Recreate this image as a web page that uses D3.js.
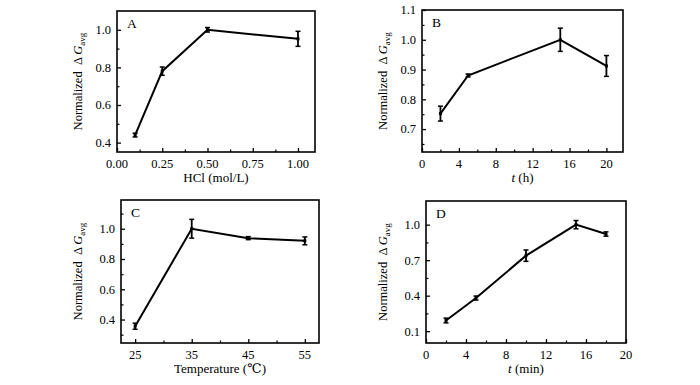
<!DOCTYPE html>
<html>
<head>
<meta charset="utf-8">
<script src="https://cdn.jsdelivr.net/npm/d3@7"></script>
<style>
  body { margin: 0; background: #fff; }
  svg text { font-family: "Liberation Serif", "DejaVu Serif", serif; fill: #000; white-space: pre; }
</style>
</head>
<body>
<script>
// data
var hclX = [0.1, 0.25, 0.5, 1.0],
    hclY = [0.44, 0.78, 1.0, 0.952],
    hclErr = [0.01, 0.022, 0.012, 0.04];
var hourX = [2, 5, 15, 20],
    hourY = [0.752, 0.88, 1.0, 0.912],
    hourErr = [0.025, 0.005, 0.039, 0.035];
var tempX = [25, 35, 45, 55],
    tempY = [0.356, 1.0, 0.938, 0.92],
    tempErr = [0.02, 0.062, 0.01, 0.026];
var minX = [2, 5, 10, 15, 18],
    minY = [0.19, 0.38, 0.738, 1.0, 0.921],
    minErr = [0.02, 0.017, 0.048, 0.035, 0.018];

// tick values
var hclTicks = [0, 0.25, 0.5, 0.75, 1.0], hclMinor = [0.125, 0.375, 0.625, 0.875];
var hclYTicks = [0.4, 0.6, 0.8, 1.0], hclYMinor = [0.5, 0.7, 0.9];
var hourTicks = [0, 4, 8, 12, 16, 20], hourMinor = [2, 6, 10, 14, 18];
var hourYTicks = [0.7, 0.8, 0.9, 1.0, 1.1], hourYMinor = [0.65, 0.75, 0.85, 0.95, 1.05];
var tempTicks = [25, 35, 45, 55], tempMinor = [30, 40, 50];
var tempYTicks = [0.4, 0.6, 0.8, 1.0], tempYMinor = [0.3, 0.5, 0.7, 0.9, 1.1];
var minTicks = [0, 4, 8, 12, 16, 20], minMinor = [2, 6, 10, 14, 18];
var minYTicks = [0.1, 0.4, 0.7, 1.0], minYMinor = [0.25, 0.55, 0.85];

var svg = d3.select("body").append("svg")
    .attr("width", 700)
    .attr("height", 385);

var panels = [
  {letter: "A", xs: hclX, ys: hclY, es: hclErr, left: 117, right: 315, top: 11, bottom: 152,
   xdom: [0, 1.094], ydom: [0.35, 1.1], xt: hclTicks, xm: hclMinor, yt: hclYTicks, ym: hclYMinor,
   xf: d3.format(".2f"), yf: d3.format(".1f"), xtitle: "HCl (mol/L)", ytx: 39},
  {letter: "B", xs: hourX, ys: hourY, es: hourErr, left: 422, right: 623, top: 10, bottom: 152,
   xdom: [0, 21.8], ydom: [0.623, 1.1], xt: hourTicks, xm: hourMinor, yt: hourYTicks, ym: hourYMinor,
   xf: d3.format("d"), yf: d3.format(".1f"), xtitle: "t", xunit: " (h)", ytx: 39},
  {letter: "C", xs: tempX, ys: tempY, es: tempErr, left: 121, right: 319, top: 200, bottom: 343,
   xdom: [22.5, 57.5], ydom: [0.245, 1.19], xt: tempTicks, xm: tempMinor, yt: tempYTicks, ym: tempYMinor,
   xf: d3.format("d"), yf: d3.format(".1f"), xtitle: "Temperature (\u2103)", ytx: 43},
  {letter: "D", xs: minX, ys: minY, es: minErr, left: 426, right: 626, top: 201, bottom: 343,
   xdom: [0, 20], ydom: [0, 1.2], xt: minTicks, xm: minMinor, yt: minYTicks, ym: minYMinor,
   xf: d3.format("d"), yf: d3.format(".1f"), xtitle: "t", xunit: " (min)", ytx: 43}
];

panels.forEach(function(p){
    var x = d3.scaleLinear().domain(p.xdom).range([p.left, p.right]);
    var y = d3.scaleLinear().domain(p.ydom).range([p.bottom, p.top]);
    var g = svg.append("g");

    // frame
    g.append("rect")
        .attr("x", p.left).attr("y", p.top)
        .attr("width", p.right - p.left).attr("height", p.bottom - p.top)
        .attr("fill", "none").attr("stroke", "#000").attr("stroke-width", 1.6);

    // inward ticks
    g.append("g")
        .attr("transform", "translate(0," + p.bottom + ")")
        .call(d3.axisTop(x).tickValues(p.xt).tickSize(4).tickFormat(""))
        .call(function(a){ a.select(".domain").remove(); a.selectAll("line").attr("stroke-width", 1.3); });
    g.append("g")
        .attr("transform", "translate(0," + p.bottom + ")")
        .call(d3.axisTop(x).tickValues(p.xm).tickSize(2.5).tickFormat(""))
        .call(function(a){ a.select(".domain").remove(); a.selectAll("line").attr("stroke-width", 1.2); });
    g.append("g")
        .attr("transform", "translate(" + p.left + ",0)")
        .call(d3.axisRight(y).tickValues(p.yt).tickSize(4).tickFormat(""))
        .call(function(a){ a.select(".domain").remove(); a.selectAll("line").attr("stroke-width", 1.3); });
    g.append("g")
        .attr("transform", "translate(" + p.left + ",0)")
        .call(d3.axisRight(y).tickValues(p.ym).tickSize(2.5).tickFormat(""))
        .call(function(a){ a.select(".domain").remove(); a.selectAll("line").attr("stroke-width", 1.2); });

    // tick labels
    g.selectAll(".xl").data(p.xt).enter().append("text")
        .attr("x", function(d){ return x(d); })
        .attr("y", p.bottom + 16)
        .attr("text-anchor", "middle")
        .style("font-size", "12.5px")
        .text(p.xf);
    g.selectAll(".yl").data(p.yt).enter().append("text")
        .attr("x", p.left - 6)
        .attr("y", function(d){ return y(d); })
        .attr("dy", "0.35em")
        .attr("text-anchor", "end")
        .style("font-size", "12.5px")
        .text(p.yf);

    // x title
    var xt = g.append("text")
        .attr("x", (p.left + p.right) / 2)
        .attr("y", p.bottom + 30)
        .attr("text-anchor", "middle")
        .style("font-size", "13px");
    if (p.xunit) {
        xt.append("tspan").style("font-style", "italic").text(p.xtitle);
        xt.append("tspan").text(p.xunit);
    } else {
        xt.text(p.xtitle);
    }

    // y title
    var yt = g.append("text")
        .attr("transform", "translate(" + (p.left - p.ytx) + "," + ((p.top + p.bottom) / 2) + ") rotate(-90)")
        .attr("text-anchor", "middle")
        .attr("dy", "0.35em")
        .style("font-size", "12.5px");
    yt.append("tspan").text("Normalized  \u0394 ");
    yt.append("tspan").style("font-style", "italic").text("G");
    yt.append("tspan").attr("dy", "3").style("font-size", "9px").text("avg");

    // panel letter
    g.append("text")
        .attr("x", p.left + 10)
        .attr("y", p.top + 17)
        .style("font-size", "13.5px")
        .text(p.letter);

    var pts = p.xs.map(function(d, i){ return {x: d, y: p.ys[i], e: p.es[i]}; });

    // line
    g.append("path")
        .datum(pts)
        .attr("fill", "none")
        .attr("stroke", "#000")
        .attr("stroke-width", 2)
        .attr("d", d3.line().x(function(d){ return x(d.x); }).y(function(d){ return y(d.y); }));

    // error bars
    var eb = g.selectAll(".eb").data(pts).enter().append("g");
    eb.append("line")
        .attr("x1", function(d){ return x(d.x); }).attr("x2", function(d){ return x(d.x); })
        .attr("y1", function(d){ return y(d.y - d.e); }).attr("y2", function(d){ return y(d.y + d.e); })
        .attr("stroke", "#000").attr("stroke-width", 1.8);
    [-1, 1].forEach(function(s){
        eb.append("line")
            .attr("x1", function(d){ return x(d.x) - 2.5; }).attr("x2", function(d){ return x(d.x) + 2.5; })
            .attr("y1", function(d){ return y(d.y + s * d.e); }).attr("y2", function(d){ return y(d.y + s * d.e); })
            .attr("stroke", "#000").attr("stroke-width", 1.5);
    });
    eb.append("rect")
        .attr("x", function(d){ return x(d.x) - 1.5; })
        .attr("y", function(d){ return y(d.y) - 1.5; })
        .attr("width", 3).attr("height", 3)
        .attr("fill", "#000");
});
</script>
</body>
</html>
